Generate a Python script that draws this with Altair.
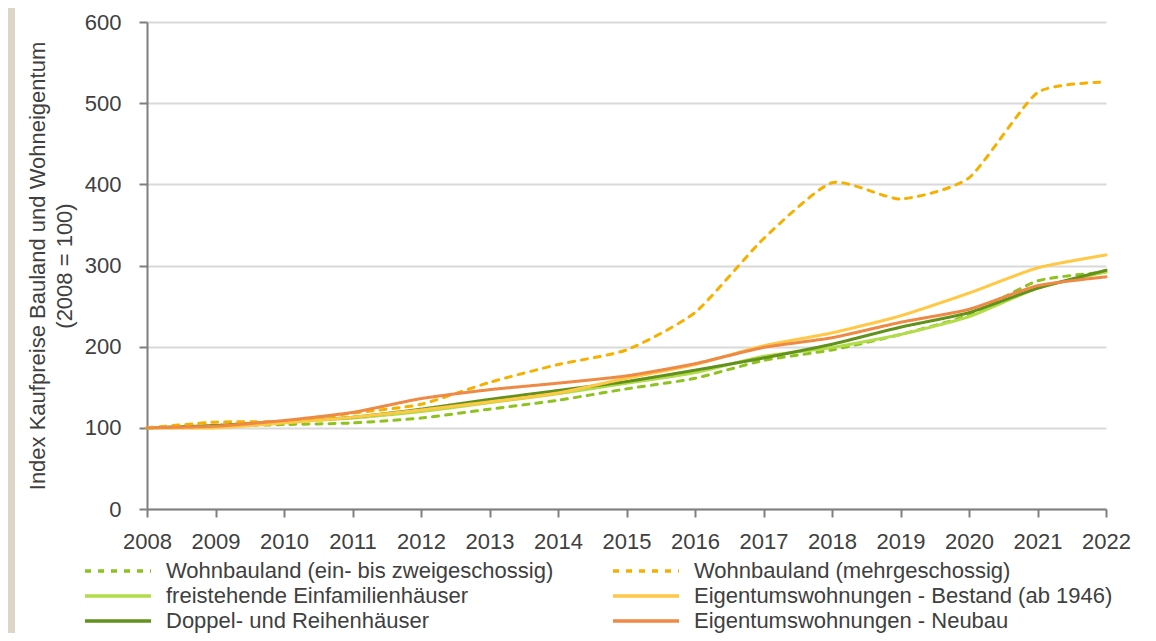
import altair as alt
import pandas as pd

years = list(range(2008, 2023))
# legend order is filled column by column
series_names = [
    "Wohnbauland (ein- bis zweigeschossig)",
    "freistehende Einfamilienhäuser",
    "Doppel- und Reihenhäuser",
    "Wohnbauland (mehrgeschossig)",
    "Eigentumswohnungen - Bestand (ab 1946)",
    "Eigentumswohnungen - Neubau",
]
bauland_ein = [100, 102, 104, 106, 112, 123, 134, 148, 161, 183, 196, 215, 239, 281, 292]
freistehend = [100, 101, 107, 112, 120, 131, 142, 155, 168, 188, 199, 215, 237, 272, 292]
doppel = [100, 103, 108, 113, 123, 135, 146, 157, 171, 186, 203, 224, 242, 272, 294]
bauland_mehr = [100, 107, 108, 118, 129, 156, 178, 196, 242, 333, 402, 382, 408, 513, 526]
bestand = [100, 100, 106, 113, 122, 132, 143, 161, 178, 201, 217, 238, 266, 297, 313]
neubau = [100, 102, 109, 119, 136, 147, 155, 164, 179, 199, 211, 230, 246, 275, 286]

colors = ["#8dc21f", "#b3dc4a", "#62921c", "#f5b000", "#ffc845", "#ee8a45"]
dashes = [[6, 7], [1, 0], [1, 0], [6, 7], [1, 0], [1, 0]]

all_values = [bauland_ein, freistehend, doppel, bauland_mehr, bestand, neubau]
rows = []
for name, vals in zip(series_names, all_values):
    for y, v in zip(years, vals):
        rows.append({"Jahr": y, "Index": v, "Reihe": name})
df = pd.DataFrame(rows)

FONT = "Liberation Sans"
TXT = "#404040"

legend_opts = dict(
    title=None, orient="none", legendX=-64, legendY=538,
    columns=2, columnPadding=57, rowPadding=3, clipHeight=22,
    symbolType="stroke", symbolSize=4356, symbolStrokeWidth=3.5,
    labelFontSize=22, labelFont=FONT, labelColor=TXT,
    labelLimit=700, labelOffset=13,
)

lines = alt.Chart(df).mark_line(
    strokeWidth=3, interpolate="cardinal", tension=0.4, strokeCap="round"
).encode(
    x=alt.X(
        "Jahr:Q",
        scale=alt.Scale(domain=[2008, 2022], nice=False, zero=False),
        axis=alt.Axis(
            values=years, format="d", title=None, grid=False,
            labelOverlap=False, labelFlush=False,
            labelFontSize=22, labelFont=FONT, labelColor=TXT,
            domainColor="#7f7f7f", domainWidth=2, tickColor="#7f7f7f",
            tickWidth=2, tickSize=8, labelPadding=14,
        ),
    ),
    y=alt.Y(
        "Index:Q",
        scale=alt.Scale(domain=[0, 600], nice=False),
        axis=alt.Axis(
            values=[0, 100, 200, 300, 400, 500, 600],
            labelOverlap=False, labelFlush=False,
            title=["Index Kaufpreise Bauland und Wohneigentum", "(2008 = 100)"],
            titleFontSize=22, titleFont=FONT, titleFontWeight="normal",
            titleColor=TXT, titlePadding=8, titleLineHeight=27,
            labelFontSize=22, labelFont=FONT, labelColor=TXT, labelPadding=18,
            domainColor="#7f7f7f", domainWidth=2, tickColor="#7f7f7f",
            tickWidth=2, tickSize=8, gridColor="#d9d9d9", gridWidth=2,
        ),
    ),
    color=alt.Color(
        "Reihe:N",
        scale=alt.Scale(domain=series_names, range=colors),
        sort=series_names,
        legend=alt.Legend(**legend_opts),
    ),
    strokeDash=alt.StrokeDash(
        "Reihe:N",
        scale=alt.Scale(domain=series_names, range=dashes),
        sort=series_names,
        legend=alt.Legend(**legend_opts),
    ),
)

strip = alt.Chart(pd.DataFrame({"a": [0]})).mark_rect(
    color="#ddd5c8", clip=False
).encode(
    x=alt.value(-139), x2=alt.value(-132), y=alt.value(-14), y2=alt.value(640)
)

chart = alt.layer(strip, lines).properties(
    width=959, height=487,
    autosize=alt.AutoSizeParams(type="none"),
    padding={"left": 139, "top": 14, "right": 30, "bottom": 124},
    background="white",
).configure_view(stroke=None)

chart.save("out.html", embed_options={"renderer": "svg", "actions": False})
